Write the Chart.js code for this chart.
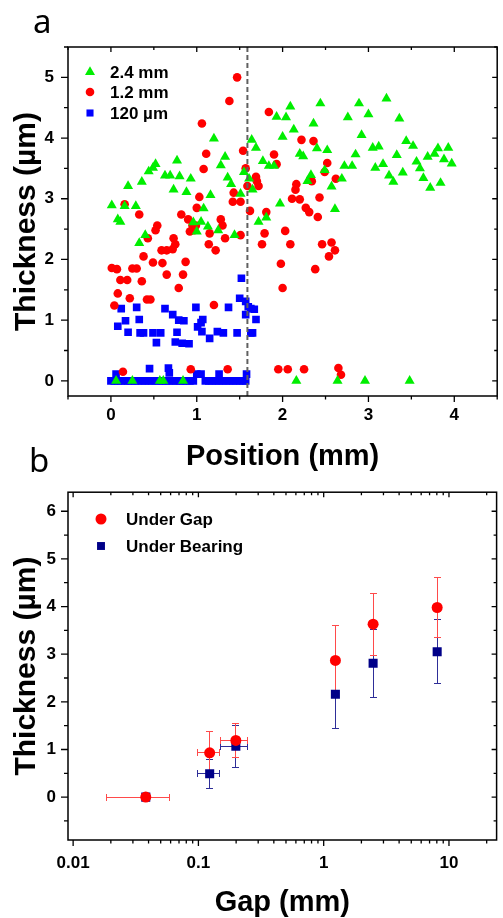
<!DOCTYPE html>
<html><head><meta charset="utf-8">
<script src="https://cdn.jsdelivr.net/npm/chart.js@4.4.1/dist/chart.umd.min.js"></script>
<style>
html,body{margin:0;padding:0;background:#fff;}
#wrap{position:relative;width:503px;height:918px;overflow:hidden;background:#fff;}
canvas{position:absolute;left:0;}
#ca{top:0}
#cb{top:470px}
.lbl{position:absolute;font-family:"Noto Sans";font-size:33px;color:#000;line-height:33px;}
</style></head><body>
<div id="wrap">
<canvas id="ca" width="503" height="475"></canvas>
<canvas id="cb" width="503" height="448"></canvas>
<div class="lbl" style="left:33px;top:4px">a</div>
<div class="lbl" style="left:29px;top:443px">b</div>
</div>
<script>
// ---------- Panel a data ----------
const seriesNamesA = ['2.4 mm', '1.2 mm', '120 µm'];
const pts24mm = [[0.01,2.89],[0.08,2.66],[0.11,2.62],[0.16,2.88],[0.20,3.21],[0.29,2.88],[0.33,2.27],[0.36,3.28],[0.40,2.40],[0.44,3.45],[0.49,3.51],[0.52,3.57],[0.63,3.38],[0.69,3.38],[0.73,3.15],[0.77,3.63],[0.80,3.37],[0.88,3.11],[0.93,3.33],[0.96,2.61],[1.0,2.46],[1.05,2.62],[1.08,2.84],[1.13,2.54],[1.16,3.06],[1.20,3.99],[1.25,2.48],[1.28,3.55],[1.33,3.69],[1.36,3.35],[1.40,3.24],[1.44,2.40],[1.51,3.08],[1.55,3.44],[1.61,3.33],[1.64,3.97],[1.65,3.15],[1.69,3.84],[1.72,2.62],[1.77,3.62],[1.81,2.69],[1.84,3.54],[1.90,3.54],[1.93,4.35],[1.97,2.92],[2.0,4.02],[2.04,4.34],[2.09,4.52],[2.13,4.14],[2.20,3.74],[2.24,3.70],[2.29,3.29],[2.33,3.39],[2.36,4.24],[2.40,3.83],[2.44,4.57],[2.49,3.47],[2.52,3.80],[2.57,3.20],[2.61,2.83],[2.69,3.33],[2.72,3.54],[2.76,4.34],[2.81,3.54],[2.85,3.73],[2.89,4.57],[2.92,4.05],[3.0,4.39],[3.05,3.84],[3.08,3.51],[3.12,3.86],[3.17,3.57],[3.21,4.65],[3.24,3.38],[3.29,3.28],[3.33,3.72],[3.36,4.32],[3.40,3.43],[3.44,3.95],[3.52,3.87],[3.56,3.61],[3.60,3.50],[3.64,3.34],[3.69,3.69],[3.72,3.18],[3.77,3.74],[3.81,3.83],[3.84,3.26],[3.88,3.65],[3.93,3.84],[3.97,3.58],
 [0.06,0],[0.25,0],[0.57,0],[0.61,0],[0.84,0],[2.16,0],[2.64,0],[2.96,0],[3.48,0]];
const pts12mm = [[0.01,1.86],[0.04,1.24],[0.07,1.84],[0.08,1.44],[0.11,1.66],[0.14,0.15],[0.16,2.91],[0.19,1.66],[0.22,1.36],[0.25,1.85],[0.30,1.85],[0.33,2.74],[0.36,1.64],[0.38,2.05],[0.42,1.34],[0.43,2.35],[0.46,1.34],[0.49,1.95],[0.52,2.48],[0.54,2.56],[0.59,2.15],[0.60,1.94],[0.65,2.15],[0.65,1.75],[0.72,2.17],[0.73,2.35],[0.75,2.25],[0.79,1.53],[0.82,2.74],[0.84,1.75],[0.87,1.96],[0.90,2.66],[0.92,2.46],[0.93,0.19],[0.95,2.56],[0.97,2.48],[0.99,2.56],[1.0,2.85],[1.03,3.03],[1.06,4.24],[1.08,3.49],[1.11,3.74],[1.14,2.25],[1.15,2.43],[1.20,1.25],[1.22,2.15],[1.28,2.66],[1.30,2.56],[1.33,2.35],[1.36,0.19],[1.38,4.61],[1.42,2.95],[1.43,3.10],[1.47,5.0],[1.51,2.95],[1.51,2.40],[1.54,3.79],[1.57,3.50],[1.59,3.21],[1.62,2.80],[1.69,3.36],[1.70,3.29],[1.72,3.21],[1.76,2.25],[1.79,2.43],[1.81,2.78],[1.84,4.43],[1.90,3.73],[1.93,3.57],[1.95,0.19],[1.98,1.93],[2.0,1.53],[2.03,2.47],[2.06,0.19],[2.09,2.25],[2.11,3.0],[2.15,3.15],[2.16,3.24],[2.20,2.99],[2.22,3.97],[2.25,0.19],[2.27,2.85],[2.31,2.78],[2.34,3.29],[2.36,3.95],[2.38,1.84],[2.41,2.70],[2.43,3.02],[2.46,2.25],[2.49,3.44],[2.52,3.59],[2.54,2.05],[2.57,2.28],[2.61,2.15],[2.62,3.33],[2.65,0.21],[2.68,0.10]];
const pts120um = [[0.06,0.11],[0.08,0.90],[0.12,1.19],[0.17,0.99],[0.20,0.80],[0.30,1.21],[0.33,1.01],[0.34,0.79],[0.38,0.79],[0.45,0.20],[0.49,0.79],[0.53,0.63],[0.58,0.79],[0.63,1.19],[0.67,0.21],[0.68,0.13],[0.72,1.09],[0.75,0.64],[0.77,0.80],[0.79,1.0],[0.83,0.62],[0.85,0.99],[0.91,0.61],[0.99,1.21],[1.0,0.11],[1.01,0.89],[1.05,0.96],[1.05,0.11],[1.06,0.81],[1.07,1.01],[1.15,0.70],[1.24,0.81],[1.26,0.11],[1.31,0.79],[1.37,1.21],[1.47,0.79],[1.50,1.36],[1.52,1.69],[1.57,1.31],[1.57,1.09],[1.58,0.11],[1.60,1.22],[1.63,1.19],[1.63,0.79],[1.65,0.79],[1.67,1.18],[1.69,1.01],
 [0,0],[0.04,0],[0.08,0],[0.12,0],[0.16,0],[0.20,0],[0.24,0],[0.28,0],[0.32,0],[0.36,0],[0.40,0],[0.44,0],[0.48,0],[0.52,0],[0.56,0],[0.60,0],[0.64,0],[0.68,0],[0.72,0],[0.76,0],[0.80,0],[0.84,0],[0.88,0],[0.92,0],[0.96,0],
 [1.10,0],[1.14,0],[1.18,0],[1.22,0],[1.26,0],[1.30,0],[1.34,0],[1.38,0],[1.42,0],[1.46,0],[1.50,0],[1.54,0],[1.57,0]];
const dividerX = 1.59;
const posTicks = [0,1,2,3,4];
const posMinor = [-0.5,0.5,1.5,2.5,3.5,4.5];
const thickTicksA = [0,1,2,3,4,5];
const thickMinorA = [0.5,1.5,2.5,3.5,4.5,5.5];

// ---------- Panel b data ----------
const seriesNamesB = ['Under Gap', 'Under Bearing'];
const gapX        = [0.038, 0.123, 0.199, 1.24, 2.48, 8.05];
const gapXLo      = [0.0184, 0.098, 0.151, null, null, null];
const gapXHi      = [0.059, 0.148, 0.245, null, null, null];
const underGapY   = [0, 0.93, 1.19, 2.87, 3.63, 3.98];
const underGapErr = [0, 0.45, 0.35, 0.74, 0.65, 0.64];
const underBearY  = [0, 0.49, 1.07, 2.16, 2.81, 3.05];
const underBearErr= [0, 0.31, 0.44, 0.71, 0.71, 0.67];
const gapTicks = [0.01, 0.1, 1, 10];
const gapTickLabels = ['0.01', '0.1', '1', '10'];
const gapMinor = [0.02,0.03,0.04,0.05,0.06,0.07,0.08,0.09,0.2,0.3,0.4,0.5,0.6,0.7,0.8,0.9,2,3,4,5,6,7,8,9,20];
const thickTicksB = [0,1,2,3,4,5,6];
const thickMinorB = [-0.5,0.5,1.5,2.5,3.5,4.5,5.5];

// ---------- helpers ----------
const FONT = 'Liberation Sans, Arial, sans-serif';
const toXY = arr => arr.map(p => ({x: p[0], y: p[1]}));
const snap = v => Math.round(v - 0.5) + 0.5;

const framePlugin = {
  id: 'frame',
  afterDatasetsDraw(chart, args, o) {
    const {ctx, chartArea: a} = chart;
    const x = chart.scales.x, y = chart.scales.y;
    ctx.save();
    ctx.strokeStyle = '#000';
    ctx.lineWidth = 1.5;
    ctx.strokeRect(a.left, a.top, a.right - a.left, a.bottom - a.top);
    ctx.lineWidth = 1.3;
    ctx.beginPath();
    const vx = (vals, outL, inL) => vals.forEach(v => {
      const p = x.getPixelForValue(v);
      if (p < a.left - 0.5 || p > a.right + 0.5) return;
      ctx.moveTo(p, a.bottom); ctx.lineTo(p, a.bottom + outL);
      ctx.moveTo(p, a.top); ctx.lineTo(p, a.top + inL);
    });
    const vy = (vals, outL, inL) => vals.forEach(v => {
      const p = y.getPixelForValue(v);
      if (p < a.top - 0.5 || p > a.bottom + 0.5) return;
      ctx.moveTo(a.left, p); ctx.lineTo(a.left - outL, p);
      ctx.moveTo(a.right, p); ctx.lineTo(a.right - inL, p);
    });
    vx(o.majorX, 6, 5); vx(o.minorX, 3.5, 3);
    vy(o.majorY, 7, 5); vy(o.minorY, 4, 3);
    ctx.stroke();
    // legend
    ctx.font = 'bold 17px ' + FONT;
    ctx.textBaseline = 'middle';
    ctx.textAlign = 'left';
    o.legend.forEach(item => {
      ctx.fillStyle = item.color;
      Chart.helpers.drawPoint(ctx, {pointStyle: item.style, radius: item.r, rotation: 0, borderWidth: 0}, item.mx, item.my);
      ctx.fillStyle = '#000';
      ctx.fillText(item.text, item.tx, item.my + 1);
    });
    ctx.restore();
  }
};

const errPlugin = {
  id: 'errbars',
  beforeDatasetsDraw(chart, args, o) {
    const {ctx} = chart;
    const x = chart.scales.x, y = chart.scales.y;
    ctx.save();
    ctx.lineWidth = 1;
    o.sets.forEach(s => {
      ctx.strokeStyle = s.color;
      ctx.beginPath();
      s.x.forEach((xv, i) => {
        const px = snap(x.getPixelForValue(xv)), py = snap(y.getPixelForValue(s.y[i]));
        if (s.err[i] > 0) {
          const t = snap(y.getPixelForValue(s.y[i] + s.err[i])), b = snap(y.getPixelForValue(s.y[i] - s.err[i]));
          ctx.moveTo(px, t); ctx.lineTo(px, b);
          ctx.moveTo(px - 3.5, t); ctx.lineTo(px + 3.5, t);
          ctx.moveTo(px - 3.5, b); ctx.lineTo(px + 3.5, b);
        }
        if (s.xlo[i] != null) {
          const l = snap(x.getPixelForValue(s.xlo[i])), r = snap(x.getPixelForValue(s.xhi[i]));
          ctx.moveTo(l, py); ctx.lineTo(r, py);
          ctx.moveTo(l, py - 3.5); ctx.lineTo(l, py + 3.5);
          ctx.moveTo(r, py - 3.5); ctx.lineTo(r, py + 3.5);
        }
      });
      ctx.stroke();
    });
    ctx.restore();
  }
};

const tickFont = {family: FONT, size: 17, weight: 'bold'};
const titleFont = {family: FONT, size: 29, weight: 'bold', lineHeight: 1};
const yTitleFont = {family: FONT, size: 30, weight: 'bold', lineHeight: 1};

// ---------- Chart a ----------
new Chart(document.getElementById('ca'), {
  type: 'scatter',
  data: {
    datasets: [
      {label: 'divider', type: 'line', data: [{x: dividerX, y: -0.25}, {x: dividerX, y: 5.5}],
       borderColor: '#606060', borderWidth: 2, borderDash: [5, 3], pointRadius: 0, fill: false},
      {label: seriesNamesA[0], data: toXY(pts24mm), pointStyle: 'triangle', pointRadius: 5.8,
       backgroundColor: '#00ee00', borderWidth: 0, pointHoverRadius: 5.8},
      {label: seriesNamesA[1], data: toXY(pts12mm), pointStyle: 'circle', pointRadius: 4.3,
       backgroundColor: '#ff0000', borderWidth: 0},
      {label: seriesNamesA[2], data: toXY(pts120um), pointStyle: 'rect', pointRadius: 5.4,
       backgroundColor: '#0000ff', borderWidth: 0}
    ]
  },
  options: {
    responsive: false, animation: false, devicePixelRatio: 1,
    layout: {padding: {top: 47, right: 1.5, left: 0, bottom: 0}},
    plugins: {
      legend: {display: false}, tooltip: {enabled: false},
      frame: {majorX: posTicks, minorX: posMinor, majorY: thickTicksA, minorY: thickMinorA,
        legend: [
          {text: seriesNamesA[0], color: '#00ee00', style: 'triangle', r: 5.8, mx: 90, my: 72, tx: 110},
          {text: seriesNamesA[1], color: '#ff0000', style: 'circle', r: 4.3, mx: 90, my: 92, tx: 110},
          {text: seriesNamesA[2], color: '#0000ff', style: 'rect', r: 5, mx: 90, my: 113, tx: 110}
        ]}
    },
    scales: {
      x: {type: 'linear', min: -0.5, max: 4.5,
        afterBuildTicks: s => { s.ticks = posTicks.map(v => ({value: v})); },
        afterFit: s => { s.height = 79; },
        grid: {display: false, drawTicks: false}, border: {display: false},
        ticks: {font: tickFont, color: '#000', padding: 9, maxRotation: 0, autoSkip: false},
        title: {display: true, text: 'Position (mm)', font: titleFont, color: '#000', padding: {top: 0, bottom: 4}}},
      y: {type: 'linear', min: -0.25, max: 5.5,
        afterBuildTicks: s => { s.ticks = thickTicksA.map(v => ({value: v})); },
        afterFit: s => { s.width = 68; },
        grid: {display: false, drawTicks: false}, border: {display: false},
        ticks: {font: tickFont, color: '#000', padding: 14, autoSkip: false},
        title: {display: true, text: 'Thickness (µm)', font: yTitleFont, color: '#000', padding: {top: 12, bottom: 0}}}
    }
  },
  plugins: [framePlugin]
});

// ---------- Chart b ----------
new Chart(document.getElementById('cb'), {
  type: 'scatter',
  data: {
    datasets: [
      {label: seriesNamesB[0], data: gapX.map((v, i) => ({x: v, y: underGapY[i]})), pointStyle: 'circle',
       pointRadius: 5.5, backgroundColor: '#ff0000', borderWidth: 0},
      {label: seriesNamesB[1], data: gapX.map((v, i) => ({x: v, y: underBearY[i]})), pointStyle: 'rect',
       pointRadius: 6.4, backgroundColor: '#000088', borderWidth: 0}
    ]
  },
  options: {
    responsive: false, animation: false, devicePixelRatio: 1,
    layout: {padding: {top: 20, right: 1, left: 0, bottom: 0}},
    plugins: {
      legend: {display: false}, tooltip: {enabled: false},
      errbars: {sets: [
        {color: '#2e2e98', x: gapX, y: underBearY, err: underBearErr, xlo: gapXLo, xhi: gapXHi},
        {color: '#ff4a4a', x: gapX, y: underGapY, err: underGapErr, xlo: gapXLo, xhi: gapXHi}
      ]},
      frame: {majorX: gapTicks, minorX: gapMinor, majorY: thickTicksB, minorY: thickMinorB,
        legend: [
          {text: seriesNamesB[0], color: '#ff0000', style: 'circle', r: 5.5, mx: 101, my: 49, tx: 126},
          {text: seriesNamesB[1], color: '#000088', style: 'rect', r: 5.6, mx: 101, my: 76, tx: 126}
        ]}
    },
    scales: {
      x: {type: 'logarithmic', min: 0.0091, max: 24,
        afterBuildTicks: s => { s.ticks = gapTicks.map(v => ({value: v})); },
        afterFit: s => { s.height = 78; },
        grid: {display: false, drawTicks: false}, border: {display: false},
        ticks: {font: tickFont, color: '#000', padding: 13, maxRotation: 0, autoSkip: false,
          callback: (v) => gapTickLabels[gapTicks.indexOf(v)] ?? ''},
        title: {display: true, text: 'Gap (mm)', font: titleFont, color: '#000', padding: {top: 0, bottom: 1}}},
      y: {type: 'linear', min: -0.9, max: 6.4,
        afterBuildTicks: s => { s.ticks = thickTicksB.map(v => ({value: v})); },
        afterFit: s => { s.width = 68; },
        grid: {display: false, drawTicks: false}, border: {display: false},
        ticks: {font: tickFont, color: '#000', padding: 12, autoSkip: false},
        title: {display: true, text: 'Thickness (µm)', font: yTitleFont, color: '#000', padding: {top: 12, bottom: 0}}}
    }
  },
  plugins: [errPlugin, framePlugin]
});
</script>
</body></html>
